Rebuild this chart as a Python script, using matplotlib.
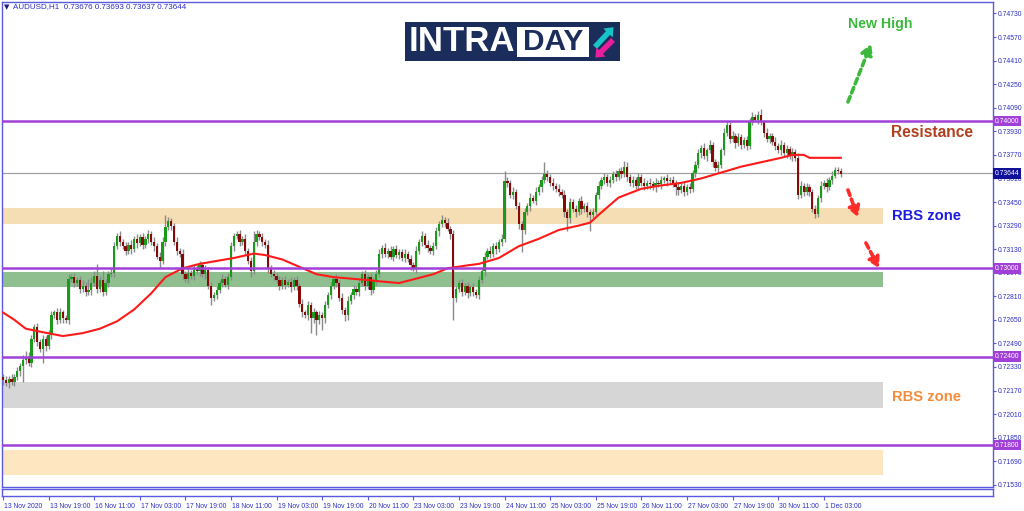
import matplotlib
matplotlib.use("Agg")
import matplotlib.pyplot as plt
import matplotlib.transforms as mtransforms
from matplotlib.patches import Rectangle, FancyArrow
import numpy as np

# AUDUSD H1 closes, in 1/10000 (open of each bar = previous close)
first_open = 7226
closes = [
    7224, 7222, 7225, 7223, 7226, 7230, 7234, 7238, 7240, 7236,
    7252, 7260, 7250, 7245, 7252, 7247, 7255, 7268, 7270, 7265,
    7270, 7266, 7265, 7293, 7294, 7290, 7292, 7286, 7288, 7284,
    7285, 7290, 7295, 7286, 7292, 7284, 7290, 7296, 7297, 7315,
    7322, 7318, 7315, 7312, 7316, 7313, 7320, 7317, 7321, 7316,
    7320, 7323, 7318, 7315, 7308, 7305, 7318, 7328, 7332, 7329,
    7318, 7312, 7310, 7296, 7293, 7297, 7295, 7300, 7298, 7302,
    7296, 7299, 7288, 7280, 7282, 7285, 7290, 7293, 7289, 7294,
    7315, 7322, 7323, 7318, 7320, 7312, 7305, 7298, 7318, 7323,
    7321, 7318, 7316, 7300, 7296, 7295, 7292, 7288, 7292, 7289,
    7291, 7287, 7292, 7288, 7276, 7270, 7268, 7275, 7266, 7270,
    7265, 7268, 7266, 7275, 7282, 7288, 7293, 7290, 7280, 7272,
    7268, 7278, 7282, 7286, 7284, 7290, 7296, 7288, 7294, 7285,
    7292, 7296, 7310, 7314, 7310, 7312, 7308, 7313, 7309, 7311,
    7307, 7310, 7306, 7302, 7300, 7312, 7318, 7322, 7316, 7314,
    7312, 7315, 7325, 7330, 7333, 7331, 7327, 7323, 7280, 7286,
    7290, 7284, 7288, 7283, 7287, 7284, 7282, 7292, 7298, 7308,
    7312, 7310, 7315, 7313, 7318, 7320, 7359, 7358, 7350, 7352,
    7342, 7330, 7326, 7338, 7342, 7348, 7346, 7352, 7355, 7360,
    7364, 7362, 7358, 7356, 7354, 7352, 7350, 7338, 7334, 7345,
    7340, 7338, 7346, 7340, 7342, 7338, 7336, 7338, 7350, 7356,
    7360, 7362, 7358, 7360, 7364, 7362, 7366, 7364, 7369, 7362,
    7358, 7360, 7356, 7362, 7358, 7356, 7358, 7357, 7355, 7358,
    7357, 7360, 7361, 7359, 7360, 7358, 7355, 7353, 7356, 7352,
    7355, 7354, 7365, 7370, 7378, 7382, 7376, 7380, 7384, 7372,
    7368, 7370, 7380, 7392, 7397, 7388, 7390, 7385, 7389, 7384,
    7387, 7383, 7400, 7403, 7401, 7404, 7399, 7392, 7388, 7390,
    7386, 7383, 7380, 7384, 7378, 7381, 7376, 7379, 7375, 7350,
    7356, 7352, 7355, 7352, 7340, 7337, 7348, 7356, 7358, 7355,
    7360, 7363, 7367, 7366, 7364,
]
# wick lengths beyond the body, in 1/10000
up_wick = [
    2, 3, 2, 3, 2, 3, 2, 3, 4, 3,
    3, 2, 3, 2, 3, 2, 3, 3, 2, 3,
    3, 2, 2, 3, 2, 3, 2, 3, 4, 3,
    8, 4, 3, 8, 3, 6, 3, 2, 3, 3,
    2, 3, 2, 3, 2, 3, 2, 3, 2, 3,
    2, 3, 2, 3, 2, 3, 3, 8, 3, 2,
    2, 3, 2, 3, 2, 3, 2, 3, 2, 3,
    2, 3, 2, 3, 2, 3, 2, 3, 2, 3,
    3, 2, 2, 3, 2, 3, 2, 3, 7, 3,
    2, 3, 2, 3, 2, 3, 2, 3, 2, 3,
    2, 3, 2, 3, 2, 3, 2, 3, 2, 3,
    2, 3, 2, 3, 2, 3, 2, 3, 2, 3,
    2, 3, 2, 3, 2, 3, 2, 3, 2, 3,
    2, 3, 3, 2, 3, 2, 3, 2, 3, 2,
    2, 3, 2, 3, 2, 3, 2, 3, 2, 3,
    2, 3, 3, 2, 3, 2, 3, 2, 3, 2,
    2, 3, 2, 3, 2, 3, 2, 3, 2, 3,
    2, 3, 2, 3, 2, 3, 7, 3, 2, 3,
    2, 3, 2, 3, 2, 3, 2, 3, 2, 3,
    8, 3, 2, 3, 2, 3, 2, 3, 2, 3,
    2, 3, 2, 3, 2, 3, 2, 3, 2, 3,
    2, 3, 2, 3, 2, 3, 2, 3, 4, 3,
    2, 3, 2, 3, 2, 3, 2, 3, 2, 3,
    2, 3, 2, 3, 2, 3, 2, 3, 2, 3,
    2, 3, 2, 3, 3, 2, 3, 2, 3, 2,
    2, 3, 2, 3, 3, 2, 3, 2, 3, 2,
    2, 3, 2, 3, 2, 3, 4, 2, 3, 2,
    2, 3, 2, 3, 2, 3, 2, 3, 2, 3,
    3, 2, 3, 2, 2, 3, 2, 3, 2, 3,
    2, 3, 2, 2, 2,
]
down_wick = [
    3, 2, 3, 2, 3, 2, 3, 11, 3, 2,
    3, 2, 3, 2, 9, 3, 2, 3, 2, 3,
    2, 3, 2, 3, 2, 3, 2, 3, 2, 3,
    2, 3, 2, 3, 2, 3, 2, 3, 2, 3,
    2, 3, 2, 3, 2, 3, 2, 3, 2, 3,
    2, 3, 2, 3, 2, 5, 2, 3, 2, 3,
    2, 3, 2, 3, 2, 3, 2, 3, 2, 3,
    2, 3, 2, 5, 2, 3, 2, 3, 2, 3,
    2, 3, 2, 3, 2, 3, 2, 4, 2, 3,
    2, 3, 2, 3, 2, 3, 2, 3, 2, 3,
    2, 3, 2, 3, 2, 3, 2, 3, 10, 3,
    10, 3, 8, 3, 2, 3, 2, 3, 2, 3,
    4, 3, 2, 3, 2, 3, 2, 3, 2, 3,
    2, 3, 2, 3, 2, 3, 2, 3, 2, 3,
    2, 3, 2, 3, 2, 3, 2, 3, 2, 3,
    2, 3, 2, 3, 2, 3, 2, 3, 15, 3,
    2, 3, 2, 3, 2, 3, 2, 3, 2, 3,
    2, 3, 2, 3, 2, 3, 2, 3, 2, 3,
    2, 3, 15, 3, 2, 3, 2, 3, 2, 3,
    2, 3, 2, 3, 2, 3, 2, 3, 9, 3,
    2, 3, 2, 3, 2, 3, 11, 2, 2, 3,
    2, 3, 2, 3, 2, 3, 2, 3, 2, 3,
    2, 3, 2, 3, 2, 3, 2, 3, 2, 3,
    2, 3, 2, 3, 2, 3, 5, 3, 2, 3,
    2, 3, 2, 3, 2, 3, 2, 3, 2, 3,
    2, 3, 2, 3, 2, 3, 2, 3, 2, 3,
    2, 3, 2, 3, 2, 3, 2, 3, 2, 3,
    2, 3, 2, 3, 2, 3, 2, 3, 2, 3,
    2, 3, 2, 3, 2, 3, 2, 3, 2, 3,
    2, 3, 2, 2, 2,
]

# moving average (bar index, value in 1/10000)
ma_bar = [0, 4, 8, 13, 21, 28, 34, 40, 46, 52, 57, 63, 69, 75, 81, 88, 92, 98,
          104, 110, 116, 122, 128, 133, 139, 145, 151, 156, 163, 167, 174, 181,
          188, 195, 202, 206, 210, 216, 224, 230, 238, 245, 252, 259, 266, 273,
          277, 281, 283, 294]
ma_val = [7270, 7265, 7259, 7257, 7254, 7256, 7259, 7264, 7272, 7283, 7294, 7300,
          7303, 7305, 7307, 7310, 7309, 7306, 7301, 7296, 7294, 7293, 7292, 7291,
          7290, 7293, 7296, 7300, 7302, 7303, 7307, 7315, 7320, 7326, 7329, 7331,
          7338, 7348, 7354, 7356, 7358, 7361, 7365, 7369, 7372, 7375, 7377, 7377,
          7375, 7375]

levels = [0.7400, 0.7300, 0.7240, 0.7180]
last_price = 0.73644
zone_lo = [0.73301, 0.72871, 0.72052, 0.71597]
zone_hi = [0.73411, 0.72973, 0.72228, 0.71767]
zone_colors = ['#f5deb3', '#8fbf8f', '#d6d6d6', '#fde6c0']

price_ticks = [0.74730, 0.74570, 0.74410, 0.74250, 0.74090, 0.73930, 0.73770,
               0.73610, 0.73450, 0.73290, 0.73130, 0.72970, 0.72810, 0.72650,
               0.72490, 0.72330, 0.72170, 0.72010, 0.71850, 0.71690, 0.71530]
time_labels = ['13 Nov 2020', '13 Nov 19:00', '16 Nov 11:00', '17 Nov 03:00',
               '17 Nov 19:00', '18 Nov 11:00', '19 Nov 03:00', '19 Nov 19:00',
               '20 Nov 11:00', '23 Nov 03:00', '23 Nov 19:00', '24 Nov 11:00',
               '25 Nov 03:00', '25 Nov 19:00', '26 Nov 11:00', '27 Nov 03:00',
               '27 Nov 19:00', '30 Nov 11:00', '1 Dec 03:00']
bars_per_label = 16

W, H = 1024, 511
AXC = '#5a5ae0'
TXC = '#2f2fc4'
PURPLE = '#a040d8'
small = ['Liberation Sans', 'DejaVu Sans']
bold = ['Liberation Sans', 'DejaVu Sans']
FS = 4.9

fig = plt.figure(figsize=(W / 100, H / 100), dpi=100)
fig.patch.set_facecolor('white')
ax = fig.add_axes([2 / W, 24 / H, 991 / W, 485 / H])
sub = fig.add_axes([2 / W, 15 / H, 991 / W, 7 / H], sharex=ax)

c = np.array(closes) / 10000
o = np.r_[first_open / 10000, c[:-1]]
hi = np.maximum(o, c) + np.array(up_wick) / 10000
lo = np.minimum(o, c) - np.array(down_wick) / 10000
idx = np.arange(len(c))

ax.set_xlim(-0.35, 347.4)
ax.set_ylim(0.715153, 0.748079)

zone_end = 308.8
for zl, zh, zc in zip(zone_lo, zone_hi, zone_colors):
    ax.add_patch(Rectangle((-0.35, zl), zone_end + 0.35, zh - zl, fc=zc, ec='none', zorder=1))

ax.axhline(last_price, color='#a0a0a0', lw=0.9, zorder=2)
ax.vlines(idx, lo, hi, color='#8a8a8a', lw=1.0, zorder=3)
bull = c >= o
ax.bar(idx[bull], (c - o)[bull], bottom=o[bull], width=0.8, color='#1a9a1a', lw=0, zorder=4)
ax.bar(idx[~bull], (o - c)[~bull], bottom=c[~bull], width=0.8, color='#870a0a', lw=0, zorder=4)
ax.plot(ma_bar, np.array(ma_val) / 10000, color='#ff1a1a', lw=1.5, zorder=5)
for lv in levels:
    ax.axhline(lv, color=PURPLE, lw=1.8, zorder=6)

# price scale on the right
ax.yaxis.tick_right()
ax.set_yticks(price_ticks)
ax.set_yticklabels(['%.5f' % p for p in price_ticks], family=small)
ax.tick_params(axis='y', labelsize=FS, labelcolor=TXC, color=AXC, length=2.5, width=0.8, pad=1)
ax.tick_params(axis='x', bottom=False, labelbottom=False)
blend = mtransforms.blended_transform_factory(ax.transAxes, ax.transData)
for lv in levels:
    ax.text(1.002, lv, '%.5f' % lv, transform=blend, fontsize=FS, color='white', family=small,
            va='center', ha='left', clip_on=False, zorder=10,
            bbox=dict(boxstyle='square,pad=0.25', fc=PURPLE, ec='none'))
ax.text(1.002, last_price, '%.5f' % last_price, transform=blend, fontsize=FS, color='white',
        family=small, va='center', ha='left', clip_on=False, zorder=10,
        bbox=dict(boxstyle='square,pad=0.25', fc='#10109a', ec='none'))

for a in (ax, sub):
    for s in a.spines.values():
        s.set_color(AXC)
        s.set_linewidth(1.0)

sub.set_yticks([])
sub.set_xticks(np.arange(len(time_labels)) * bars_per_label)
sub.set_xticklabels(time_labels, ha='left', family=small)
sub.tick_params(axis='x', labelsize=FS, labelcolor=TXC, color=AXC, length=3, width=0.8, pad=2)
for t in sub.get_xticklabels():
    t.set_transform(t.get_transform() + mtransforms.ScaledTranslation(1 / 100, 0, fig.dpi_scale_trans))

# header
fig.text(4 / W, 1 - 7 / H, '\u25bc', fontsize=5, color='#1a1a8a', va='center', ha='left', family='DejaVu Sans')
fig.text(13 / W, 1 - 7 / H, 'AUDUSD,H1  0.73676 0.73693 0.73637 0.73644', fontsize=5.8,
         color=TXC, va='center', ha='left', family=small)

# annotations
ax.text(307.7, 0.74659, 'New High', color='#3cb83c', fontsize=10.2, fontweight='bold',
        ha='center', va='center', family=bold, zorder=8)
ax.text(326.0, 0.73919, 'Resistance', color='#b0401e', fontsize=11.2, fontweight='bold',
        ha='center', va='center', family=bold, zorder=8)
ax.text(324.2, 0.73355, 'RBS zone', color='#1c1ce0', fontsize=10.6, fontweight='bold',
        ha='center', va='center', family=bold, zorder=8)
ax.text(324.2, 0.72126, 'RBS zone', color='#f58c3a', fontsize=10.6, fontweight='bold',
        ha='center', va='center', family=bold, zorder=8)

def dashed_arrow(x0, y0, x1, y1, col):
    ax.annotate('', xy=(x1, y1), xytext=(x0, y0), zorder=8,
                arrowprops=dict(arrowstyle='-|>,head_length=0.6,head_width=0.35', color=col,
                                lw=2.6, linestyle=(0, (1.6, 1.1)), shrinkA=0, shrinkB=0))

dashed_arrow(296.5, 0.74129, 304.6, 0.74523, '#3cb83c')
dashed_arrow(296.5, 0.73532, 300.0, 0.73348, '#ff2a2a')
dashed_arrow(302.8, 0.73172, 307.4, 0.73002, '#ff2a2a')

# INTRADAY logo, drawn in its own pixel-sized axes
lg = fig.add_axes([405 / W, 1 - 61 / H, 215 / W, 39 / H])
lg.set_xlim(405, 620)
lg.set_ylim(61, 22)
lg.axis('off')
lg.add_patch(Rectangle((405, 22), 215, 39, fc='#1b2d5a', ec='none'))
lg.add_patch(Rectangle((517, 27), 72, 30, fc='white', ec='none'))
lg.text(409, 41.5, 'INTRA', color='white', fontsize=25, fontweight='bold',
        ha='left', va='center', family=bold)
lg.text(553, 42, 'DAY', color='#1b2d5a', fontsize=21.5, fontweight='bold',
        ha='center', va='center', family=bold)
lg.add_patch(FancyArrow(595, 47, 13, -14, width=5.5, head_width=13, head_length=8,
                        length_includes_head=False, fc='#19c4c8', ec='none'))
lg.add_patch(FancyArrow(613, 40, -12, 12, width=5.5, head_width=13, head_length=8,
                        length_includes_head=False, fc='#e81e9c', ec='none'))

fig.savefig('out.png', dpi=100)
